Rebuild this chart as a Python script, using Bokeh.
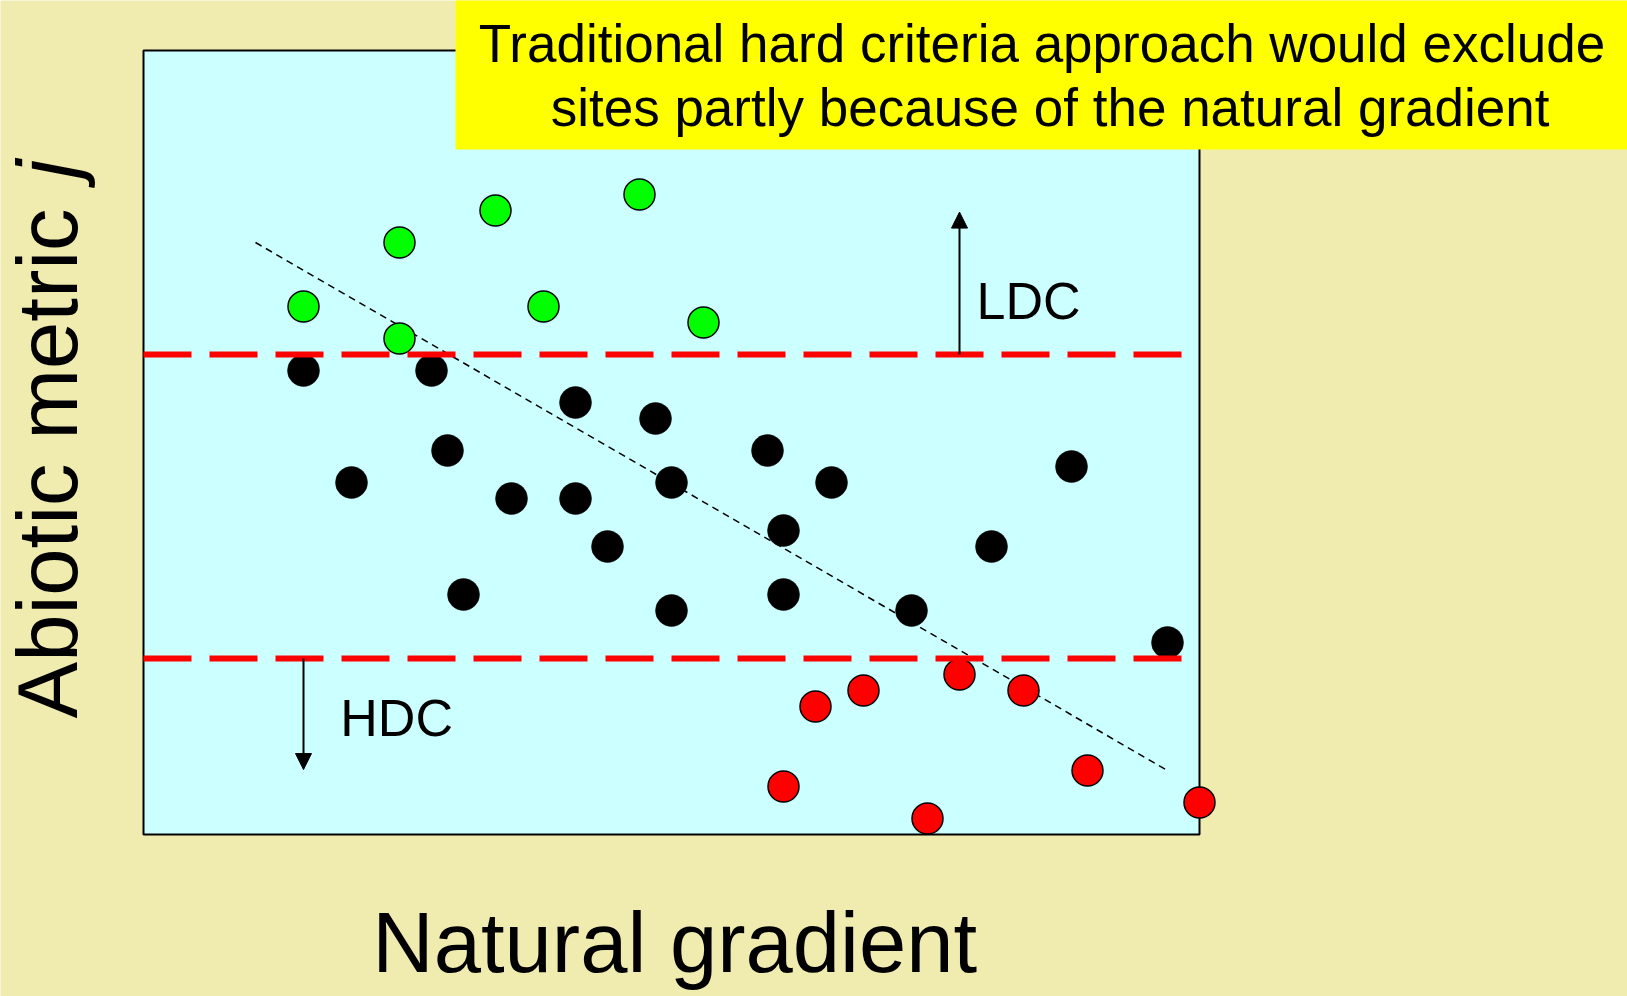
import math
from bokeh.plotting import figure
from bokeh.models import Range1d, Arrow, NormalHead
from bokeh.core.properties import value
from bokeh.embed import file_html
from bokeh.resources import INLINE

# ---- data (arbitrary units) ----
green_x = [10, 16, 22, 31, 25, 35, 16]
green_y = [33, 37, 39, 40, 33, 32, 31]
black_x = [10, 18, 27, 32, 19, 13, 23, 27, 33, 39, 29, 20, 33, 40, 43, 40, 48, 53, 58, 64]
black_y = [29, 29, 27, 26, 24, 22, 21, 21, 22, 24, 18, 15, 14, 19, 22, 15, 14, 18, 23, 12]
red_x = [42, 45, 51, 55, 40, 49, 59, 66]
red_y = [8, 9, 10, 9, 3, 1, 4, 2]
ldc_level = 30
hdc_level = 11
trend_x = [7, 64]
trend_y = [37, 4]
area_x = [0, 66]
area_y = [0, 49]
title_lines = ["Traditional hard criteria approach would exclude",
               "sites partly because of the natural gradient"]
x_title = "Natural gradient"
y_title = "Abiotic metric "
y_title_var = "j"

KHAKI = "#F0ECB0"
CYAN = "#CCFFFF"
FONT = value("Liberation Sans")

p = figure(width=1627, height=996, title=None,
           x_range=Range1d(-8.9375, 92.75), y_range=Range1d(-10.125, 52.125),
           x_axis_location=None, y_axis_location=None,
           toolbar_location=None, output_backend="svg",
           background_fill_color=KHAKI, border_fill_color=KHAKI,
           outline_line_color=None, min_border=0)
p.grid.visible = False

# plot area
p.quad(left=[area_x[0]], right=[area_x[1]], bottom=[area_y[0]], top=[area_y[1]],
       fill_color=CYAN, line_color="black", line_width=2)

# trend line
p.line(trend_x, trend_y, line_color="black", line_width=1.5, line_dash="7 5")

# points
p.scatter(black_x, black_y, size=32, fill_color="black", line_color="black", line_width=0.5)
p.scatter(green_x, green_y, size=31, fill_color="#00FF00", line_color="black", line_width=1.5)
p.scatter(red_x, red_y, size=31, fill_color="#FF0000", line_color="black", line_width=1.5)

# threshold lines
p.line([0, 64.9], [ldc_level, ldc_level], line_color="#FF0000", line_width=6, line_dash="48 18")
p.line([0, 64.9], [hdc_level, hdc_level], line_color="#FF0000", line_width=6, line_dash="48 18")

# arrows
p.add_layout(Arrow(end=NormalHead(size=16, fill_color="black", line_color="black"),
                   x_start=51, y_start=ldc_level, x_end=51, y_end=38.9,
                   line_color="black", line_width=2))
p.add_layout(Arrow(end=NormalHead(size=16, fill_color="black", line_color="black"),
                   x_start=10, y_start=hdc_level, x_end=10, y_end=4.06,
                   line_color="black", line_width=2))

p.text(x=[52.06], y=[33.33], text=["LDC"], text_font=FONT, text_font_size="52px",
       text_color="black", text_align="left", text_baseline="alphabetic")
p.text(x=[12.3], y=[7.29], text=["HDC"], text_font=FONT, text_font_size="52px",
       text_color="black", text_align="left", text_baseline="alphabetic")

# yellow title box
p.quad(left=[19.5], right=[93], bottom=[42.81], top=[53], fill_color="#FFFF00", line_color=None)
p.text(x=[56.16, 56.66], y=[49.44, 45.44], text=title_lines, text_font=FONT,
       text_font_size="53px", text_color="black", text_align="center", text_baseline="alphabetic")

# axis titles
p.text(x=[33.2], y=[-6.78], text=[x_title], text_font=FONT, text_font_size="85px",
       text_color="black", text_align="center", text_baseline="alphabetic")
p.text(x=[-6.0], y=[7.25], text=[y_title], angle=math.pi / 2, text_font=FONT,
       text_font_size="85px", text_color="black", text_align="left", text_baseline="alphabetic")
p.text(x=[-6.0], y=[41.0], text=[y_title_var], angle=math.pi / 2, text_font=FONT,
       text_font_size="85px", text_font_style="italic", text_color="black",
       text_align="left", text_baseline="alphabetic")

html = file_html(p, INLINE)
html = html.replace("<body>", '<body style="background-color:%s;">' % KHAKI, 1)
open("out.html", "w").write(html)
